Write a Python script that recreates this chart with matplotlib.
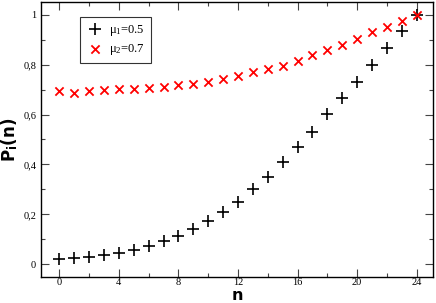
import matplotlib
matplotlib.use('Agg')
import matplotlib.pyplot as plt
from matplotlib.ticker import MultipleLocator, FuncFormatter

# data
n = list(range(25))
p_mu1 = [0.020, 0.024, 0.030, 0.038, 0.047, 0.059, 0.072, 0.093, 0.115, 0.143,
         0.173, 0.211, 0.250, 0.300, 0.350, 0.410, 0.469, 0.531, 0.602, 0.665,
         0.732, 0.800, 0.865, 0.933, 1.000]
p_mu2 = [0.696, 0.688, 0.693, 0.697, 0.702, 0.701, 0.706, 0.710, 0.717, 0.722,
         0.731, 0.742, 0.756, 0.769, 0.781, 0.796, 0.814, 0.837, 0.859, 0.880,
         0.904, 0.929, 0.952, 0.975, 1.000]
labels = [r'$\mu_1$=0.5', r'$\mu_2$=0.7']

plt.rcParams['mathtext.fontset'] = 'custom'
plt.rcParams['mathtext.rm'] = 'Liberation Serif'
plt.rcParams['mathtext.it'] = 'Liberation Serif'

fig = plt.figure(figsize=(4.36, 3.03), dpi=100)
ax = fig.add_axes([41/436, 26/303, 392/436, 275/303])

ax.scatter(n, p_mu1, marker='+', c='black', s=65, linewidths=1.2, label=labels[0], zorder=3)
ax.scatter(n, p_mu2, marker='x', c='red', s=35, linewidths=1.3, label=labels[1], zorder=3)

ax.set_xlim(-1.23, 25.1)
ax.set_ylim(-0.051, 1.051)
ax.xaxis.set_major_locator(MultipleLocator(4))
ax.xaxis.set_minor_locator(MultipleLocator(2))
ax.yaxis.set_major_locator(MultipleLocator(0.2))
ax.yaxis.set_minor_locator(MultipleLocator(0.1))

def comma(v, pos):
    s = ('%.1f' % v).rstrip('0').rstrip('.')
    return s.replace('.', ',')
ax.yaxis.set_major_formatter(FuncFormatter(comma))

ax.tick_params(which='both', direction='in', top=True, right=True,
               labelsize=7.5, width=0.8, color='#444444')
ax.tick_params(which='major', length=6)
ax.tick_params(which='minor', length=3)
ax.tick_params(axis='x', pad=1)
for lab in ax.get_xticklabels() + ax.get_yticklabels():
    lab.set_family('Liberation Serif')
for sp in ax.spines.values():
    sp.set_linewidth(1.0)

fig.text(237/436, 0.5/303, 'n', fontsize=11.5, fontweight='bold', family='DejaVu Sans',
         ha='center', va='bottom')
ax.set_ylabel(r'P$_\mathbf{i}$(n)', fontsize=12, fontweight='bold', family='DejaVu Sans', labelpad=2)

leg = ax.legend(loc='upper left', bbox_to_anchor=(39/392, (277-17)/275), borderaxespad=0,
                prop={'family': 'Liberation Serif', 'size': 9},
                frameon=True, fancybox=False, edgecolor='black', handletextpad=0.4,
                borderpad=0.45, labelspacing=0.35, handlelength=1.5, scatterpoints=1)
leg.get_frame().set_linewidth(0.8)

plt.savefig('out.png', dpi=100)
